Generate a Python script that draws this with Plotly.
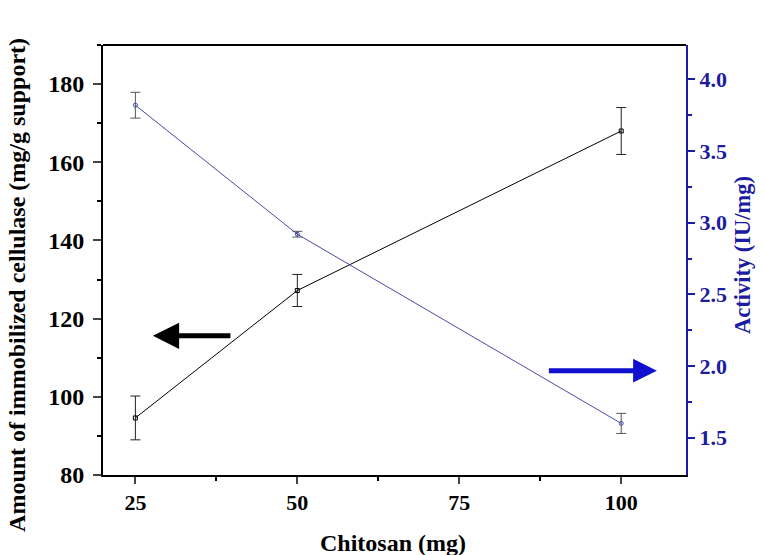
import plotly.graph_objects as go

chitosan = [25, 50, 100]
amount = [94.6, 127.2, 168.0]
amount_err = [5.6, 4.1, 6.0]
activity = [3.82, 2.92, 1.60]
activity_err = [0.09, 0.02, 0.07]

FONT = "Liberation Serif"
BLUE_AX = "#1c1ca0"
BLUE_LINE = "#4a4aa8"

fig = go.Figure()
fig.add_trace(go.Scatter(
    x=chitosan, y=amount, mode="lines+markers",
    line=dict(color="black", width=1),
    marker=dict(symbol="square-open", size=4, color="black", line=dict(width=1)),
    error_y=dict(type="data", array=amount_err, color="#222", thickness=1, width=5),
    yaxis="y", showlegend=False))
fig.add_trace(go.Scatter(
    x=chitosan, y=activity, mode="lines+markers",
    line=dict(color=BLUE_LINE, width=1),
    marker=dict(symbol="circle-open", size=4, color=BLUE_LINE, line=dict(width=1)),
    error_y=dict(type="data", array=activity_err, color="#555", thickness=1, width=5),
    yaxis="y2", showlegend=False))

fig.add_annotation(x=27.7, y=115.6, ax=39.9, ay=115.6, xref="x", yref="y",
                   axref="x", ayref="y", text="", showarrow=True,
                   arrowhead=2, arrowsize=1.05, arrowwidth=5, arrowcolor="black", standoff=0)
fig.add_annotation(x=105.5, y=106.7, ax=88.6, ay=106.7, xref="x", yref="y",
                   axref="x", ayref="y", text="", showarrow=True,
                   arrowhead=2, arrowsize=0.95, arrowwidth=5, arrowcolor="#1010d0", standoff=0)

# axis titles as annotations (positions in paper coords)
fig.add_annotation(text="Amount of immobilized cellulase (mg/g support)", textangle=-90,
                   xref="paper", yref="paper", x=-0.1475, y=0.442, showarrow=False,
                   xanchor="center", yanchor="middle",
                   font=dict(family=FONT, size=24, color="black", weight="bold"))
fig.add_annotation(text="Chitosan (mg)", xref="paper", yref="paper", x=0.497, y=-0.158,
                   showarrow=False, xanchor="center", yanchor="middle",
                   font=dict(family=FONT, size=24, color="black", weight="bold"))
fig.add_annotation(text="Activity (IU/mg)", textangle=-90, xref="paper", yref="paper",
                   x=1.098, y=0.512, showarrow=False, xanchor="center", yanchor="middle",
                   font=dict(family=FONT, size=22.5, color=BLUE_AX, weight="bold"))

tickfont = dict(family=FONT, size=24, color="black", weight="bold")
fig.update_layout(
    width=766, height=555,
    margin=dict(l=103, r=80, t=45, b=80, autoexpand=False),
    plot_bgcolor="white", paper_bgcolor="white",
    xaxis=dict(range=[20, 110], tickvals=[25, 50, 75, 100], ticks="outside", ticklen=7,
               tickwidth=1.5, linecolor="black", linewidth=2, showgrid=False, zeroline=False,
               minor=dict(tickvals=[37.5, 62.5, 87.5], ticks="outside", ticklen=4, tickwidth=1.5, tickcolor="black"),
               tickfont=dict(family=FONT, size=22, color="black", weight="bold"), automargin=False),
    yaxis=dict(range=[80, 190], tickvals=[80, 100, 120, 140, 160, 180], ticks="outside", ticklen=8,
               tickwidth=1.5, linecolor="black", linewidth=2, showgrid=False, zeroline=False,
               minor=dict(tickvals=[90, 110, 130, 150, 170, 190], ticks="outside", ticklen=4, tickwidth=1.5, tickcolor="black"),
               tickfont=tickfont, ticklabelstandoff=4, automargin=False),
    yaxis2=dict(range=[1.24, 4.24], overlaying="y", side="right", anchor="x",
                tickvals=[1.5, 2.0, 2.5, 3.0, 3.5, 4.0], ticktext=["1.5", "2.0", "2.5", "3.0", "3.5", "4.0"],
                ticks="outside", ticklen=7, tickwidth=1.5, tickcolor=BLUE_AX,
                linecolor=BLUE_AX, linewidth=2, showgrid=False, zeroline=False,
                minor=dict(tickvals=[1.75, 2.25, 2.75, 3.25, 3.75], ticks="outside", ticklen=4, tickwidth=1.5, tickcolor=BLUE_AX),
                tickfont=dict(family=FONT, size=22, color=BLUE_AX, weight="bold"), automargin=False),
)
fig.add_shape(type="line", xref="paper", yref="paper", x0=0, x1=1, y0=1, y1=1,
              line=dict(color="black", width=2))
fig.write_html("out.html")
